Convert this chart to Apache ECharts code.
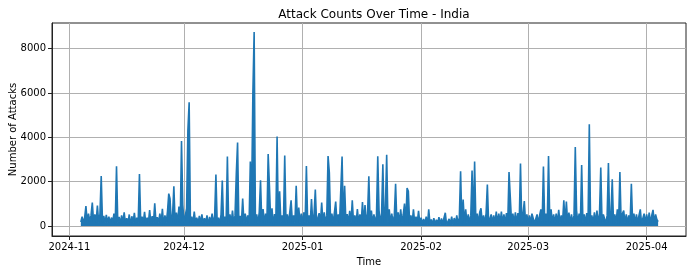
<!DOCTYPE html>
<html>
<head>
<meta charset="utf-8">
<script src="https://cdn.jsdelivr.net/npm/echarts@6/dist/echarts.min.js"></script>
<style>
html,body{margin:0;padding:0;background:#fff;}
#chart{width:693px;height:273px;}
</style>
</head>
<body>
<div id="chart"></div>
<script>
// Attack counts, three readings per day (00h, 08h, 16h), starting 2024-11-04
const nov = [
  180,420,160, 380,900,190, 560,220,480, 1055,200,520, 180,920,160,
  540,2255,170, 460,150,500, 160,420,140, 380,180,560, 130,2692,150,
  410,120,480, 170,620,130, 350,140,520, 20,440,160, 590,130,380,
  150,2345,140, 420,170,640, 130,380,150, 720,120,450, 160,1024,130,
  400,150,560, 140,780,20, 480,160,650, 1460,1230,140, 520,1790,130,
  600,140,880, 170,3833,960
];
const dec = [
  160,480,800, 4300,5578,160, 420,130,650, 150,380,120, 460,140,520,
  130,350,160, 480,20,410, 140,560,130, 440,2318,150, 380,120,500,
  2047,140,420, 130,3130,160, 520,140,700, 130,480,2363, 3761,150,460,
  130,1235,140, 560,160,480, 20,2904,1200, 5970,8749,140, 520,130,620,
  2061,140,760, 130,560,140, 3247,1800,160, 800,30,540, 160,4031,130,
  1565,140,480, 160,3175,130, 520,140,640, 1160,130,480, 150,1820,140,
  830,130,560
];
const jan = [
  140,620,130, 2706,150,480, 130,1218,140, 520,1640,130, 160,580,140,
  1055,130,620, 140,480,3157, 2408,140,560, 130,620,1100, 140,520,160,
  130,3130,140, 1820,160,540, 140,680,130, 1160,140,480, 130,760,140,
  520,130,1085, 140,940,130, 560,2240,140, 700,130,520, 140,480,3143,
  700,140,560, 2780,160,800, 3217,140,750, 130,560,140, 480,1910,130,
  620,140,750, 130,520,1010, 140,1715,1565, 130,480,140, 750,130,420,
  140,680,130
];
const feb = [
  380,80,320, 100,420,60, 750,90,300, 70,360,80, 280,100,400,
  60,340,90, 380,600,70, 90,320,100, 420,60,360, 100,480,120,
  380,2467,130, 1190,140,750, 130,520,140, 480,2498,130, 2904,140,560,
  130,620,800, 140,480,130, 560,1867,140, 130,520,160, 480,130,650,
  140,560,130, 650,140,520, 130,580,140, 2435,1300,130, 560,140,620,
  130,580,140, 2813,130,560, 1130,140,520
];
const mar = [
  130,480,140, 560,600,130, 140,520,130, 480,750,140, 2678,130,560,
  140,3157,130, 750,140,520, 130,560,140, 730,130,480, 140,1160,130,
  1100,140,600, 130,520,140, 480,3563,700, 130,560,140, 2750,130,520,
  140,580,130, 4586,140,480, 130,620,140, 700,130,560, 2633,140,520,
  600,130,480, 2840,140,560, 2106,130,520, 140,750,130, 2435,140,560,
  700,130,520, 140,480,130, 1910,140,560, 130,520,140, 480,750,130,
  140,560,130
];
const apr = [
  520,140,600, 130,480,730, 140,520,300, 200
];
const monthTickLabels = ['2024-11','2024-12','2025-01','2025-02','2025-03','2025-04'];
const yTickValues = [0, 2000, 4000, 6000, 8000];

const monthTickValues = [
  Date.UTC(2024,10,1), Date.UTC(2024,11,1), Date.UTC(2025,0,1),
  Date.UTC(2025,1,1), Date.UTC(2025,2,1), Date.UTC(2025,3,1)
];
const startTime = Date.UTC(2024,10,4,0);
const step = 8 * 3600 * 1000;
const values = [].concat(nov, dec, jan, feb, mar, apr);
const seriesData = values.map((v, i) => [startTime + i * step, v]);

const font = 'DejaVu Sans';
const chart = echarts.init(document.getElementById('chart'), null, {renderer: 'canvas'});
chart.setOption({
  animation: false,
  backgroundColor: '#ffffff',
  title: {
    text: 'Attack Counts Over Time - India',
    left: 369, top: 4, textAlign: 'center',
    textStyle: {fontFamily: font, fontSize: 12, fontWeight: 'normal', color: '#000'}
  },
  grid: {
    left: 52, right: 7, top: 23, bottom: 37,
    containLabel: false, outerBoundsMode: 'none',
    show: true, borderColor: '#222', borderWidth: 1, backgroundColor: 'transparent'
  },
  xAxis: {
    type: 'value',
    min: Date.UTC(2024,9,27,11),
    max: Date.UTC(2025,3,11,7),
    name: 'Time', nameLocation: 'middle', nameGap: 21,
    nameMoveOverlap: false,
    nameTextStyle: {fontFamily: font, fontSize: 10, color: '#000'},
    axisLine: {show: true, onZero: false, lineStyle: {color: '#222', width: 1}},
    axisTick: {show: true, inside: false, length: 4, customValues: monthTickValues, lineStyle: {color: '#222'}},
    axisLabel: {
      customValues: monthTickValues,
      fontFamily: font, fontSize: 10, color: '#000', margin: 6,
      formatter: function (val) {
        const idx = monthTickValues.indexOf(Number(val));
        return idx >= 0 ? monthTickLabels[idx] : '';
      }
    },
    splitLine: {show: true, lineStyle: {color: '#b0b0b0', width: 1}}
  },
  yAxis: {
    type: 'value',
    min: -450, max: 9155,
    name: 'Number of Attacks', nameLocation: 'middle', nameGap: 34, nameRotate: 90,
    nameMoveOverlap: false,
    nameTextStyle: {fontFamily: font, fontSize: 10, color: '#000'},
    axisLine: {show: true, onZero: false, lineStyle: {color: '#222', width: 1}},
    axisTick: {show: true, inside: false, length: 4, customValues: yTickValues, lineStyle: {color: '#222'}},
    axisLabel: {
      customValues: yTickValues,
      fontFamily: font, fontSize: 10, color: '#000', margin: 6,
      formatter: function (val) { return String(val); }
    },
    splitLine: {show: true, lineStyle: {color: '#b0b0b0', width: 1}}
  },
  series: [{
    type: 'line',
    data: seriesData,
    showSymbol: false,
    symbol: 'none',
    lineStyle: {color: '#1f77b4', width: 1.6},
    itemStyle: {color: '#1f77b4'},
    areaStyle: {color: '#1f77b4', opacity: 1, origin: 0},
    z: 3
  }]
});
</script>
</body>
</html>
